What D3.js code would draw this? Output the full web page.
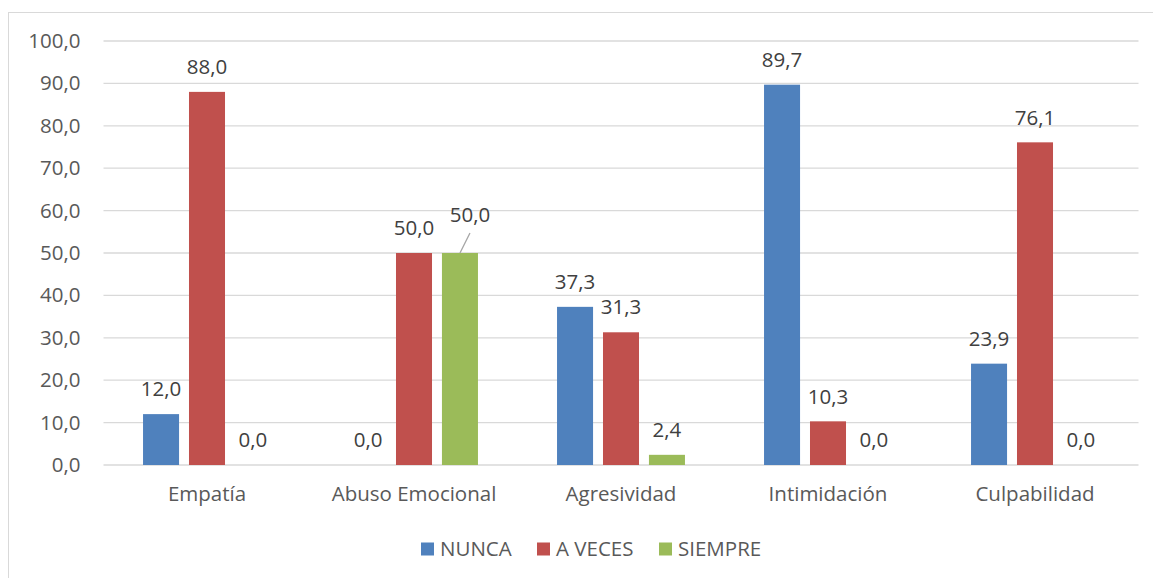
<!DOCTYPE html>
<html>
<head>
<meta charset="utf-8">
<script src="https://cdn.jsdelivr.net/npm/d3@7"></script>
<style>
  body { margin: 0; background: #fff; }
  text { font-family: "Open Sans", sans-serif; }
</style>
</head>
<body>
<div id="viz"></div>
<script>
const categories = ["Empatía", "Abuso Emocional", "Agresividad", "Intimidación", "Culpabilidad"];
const seriesNames = ["NUNCA", "A VECES", "SIEMPRE"];
const nunca   = [12.0, 0.0, 37.3, 89.7, 23.9];
const aVeces  = [88.0, 50.0, 31.3, 10.3, 76.1];
const siempre = [0.0, 50.0, 2.4, 0.0, 0.0];
const yTicks = [0, 10, 20, 30, 40, 50, 60, 70, 80, 90, 100];

const COLORS = ["#4F81BD", "#C0504D", "#9BBB59"];
const W = 1153, H = 578;
const M = { left: 103.5, right: 1138.5, top: 41, bottom: 465 };
const FS = 20.5;

const svg = d3.select("#viz").append("svg")
    .attr("width", W)
    .attr("height", H);

// chart border
svg.append("rect")
    .attr("x", 8.5).attr("y", 12.5)
    .attr("width", W + 10).attr("height", H + 10)
    .attr("fill", "none")
    .attr("stroke", "#d9d9d9")
    .attr("stroke-width", 1);

const x = d3.scaleBand()
    .domain(categories)
    .range([M.left, M.right]);

const y = d3.scaleLinear()
    .domain([0, 100])
    .range([M.bottom, M.top]);

const barW = x.bandwidth() * 0.174;
const gap = x.bandwidth() * 0.048;
const xs = d3.scaleBand()
    .domain(seriesNames)
    .range([0, 3 * barW + 2 * gap])
    .paddingInner(gap / (barW + gap));
const groupOff = (x.bandwidth() - (3 * barW + 2 * gap)) / 2;

const fmt = v => v.toFixed(1).replace(".", ",");

// grid
svg.append("g").selectAll("line")
    .data(yTicks)
    .enter()
    .append("line")
    .attr("x1", M.left).attr("x2", M.right)
    .attr("y1", d => y(d)).attr("y2", d => y(d))
    .attr("stroke", "#d9d9d9")
    .attr("stroke-width", 1.3);

// y axis labels
const yAxis = svg.append("g")
    .attr("transform", `translate(${M.left - 23},0)`)
    .call(d3.axisLeft(y).tickValues(yTicks).tickSize(0).tickPadding(0).tickFormat(fmt));
yAxis.select(".domain").remove();
yAxis.selectAll("text")
    .attr("font-size", FS)
    .attr("fill", "#595959")
    .style("font-family", '"Open Sans", sans-serif');

// x axis labels
const xAxis = svg.append("g")
    .attr("transform", `translate(0,${M.bottom + 22})`)
    .call(d3.axisBottom(x).tickSize(0).tickPadding(0));
xAxis.select(".domain").remove();
xAxis.selectAll("text")
    .attr("font-size", FS)
    .attr("fill", "#595959")
    .attr("dy", "0.7em")
    .style("font-family", '"Open Sans", sans-serif');

const table = [nunca, aVeces, siempre].map((vals, s) =>
    vals.map((v, i) => ({ cat: categories[i], series: seriesNames[s], s: s, v: v })));
const flat = table.flat();

const bx = d => x(d.cat) + groupOff + xs(d.series);

svg.append("g").selectAll("rect")
    .data(flat)
    .enter()
    .append("rect")
    .attr("x", bx)
    .attr("y", d => y(d.v))
    .attr("width", xs.bandwidth())
    .attr("height", d => y(0) - y(d.v))
    .attr("fill", d => COLORS[d.s]);

// value labels; the SIEMPRE 50,0 label was moved with a leader line
const moved = d => d.cat === "Abuso Emocional" && d.series === "SIEMPRE";

svg.append("g").selectAll("text")
    .data(flat)
    .enter()
    .append("text")
    .attr("x", d => bx(d) + xs.bandwidth() / 2 + (moved(d) ? 10 : 0))
    .attr("y", d => y(d.v) - (moved(d) ? 38 : 25))
    .attr("dy", "0.35em")
    .attr("text-anchor", "middle")
    .attr("font-size", FS)
    .attr("fill", "#404040")
    .text(d => fmt(d.v));

const mv = flat.filter(moved);
svg.append("g").selectAll("line")
    .data(mv)
    .enter()
    .append("line")
    .attr("x1", d => bx(d) + xs.bandwidth() / 2)
    .attr("y1", d => y(d.v))
    .attr("x2", d => bx(d) + xs.bandwidth() / 2 + 10)
    .attr("y2", d => y(d.v) - 20)
    .attr("stroke", "#a6a6a6")
    .attr("stroke-width", 1.3);

// legend
const legendX = [421, 537, 659];
const lg = svg.append("g").selectAll("g")
    .data(seriesNames)
    .enter()
    .append("g")
    .attr("transform", (d, i) => `translate(${legendX[i]},549)`);
lg.append("rect")
    .attr("x", 0).attr("y", -6.5)
    .attr("width", 13).attr("height", 13)
    .attr("fill", (d, i) => COLORS[i]);
lg.append("text")
    .attr("x", 19).attr("y", 0)
    .attr("dy", "0.35em")
    .attr("font-size", FS)
    .attr("fill", "#595959")
    .text(d => d);
</script>
</body>
</html>
